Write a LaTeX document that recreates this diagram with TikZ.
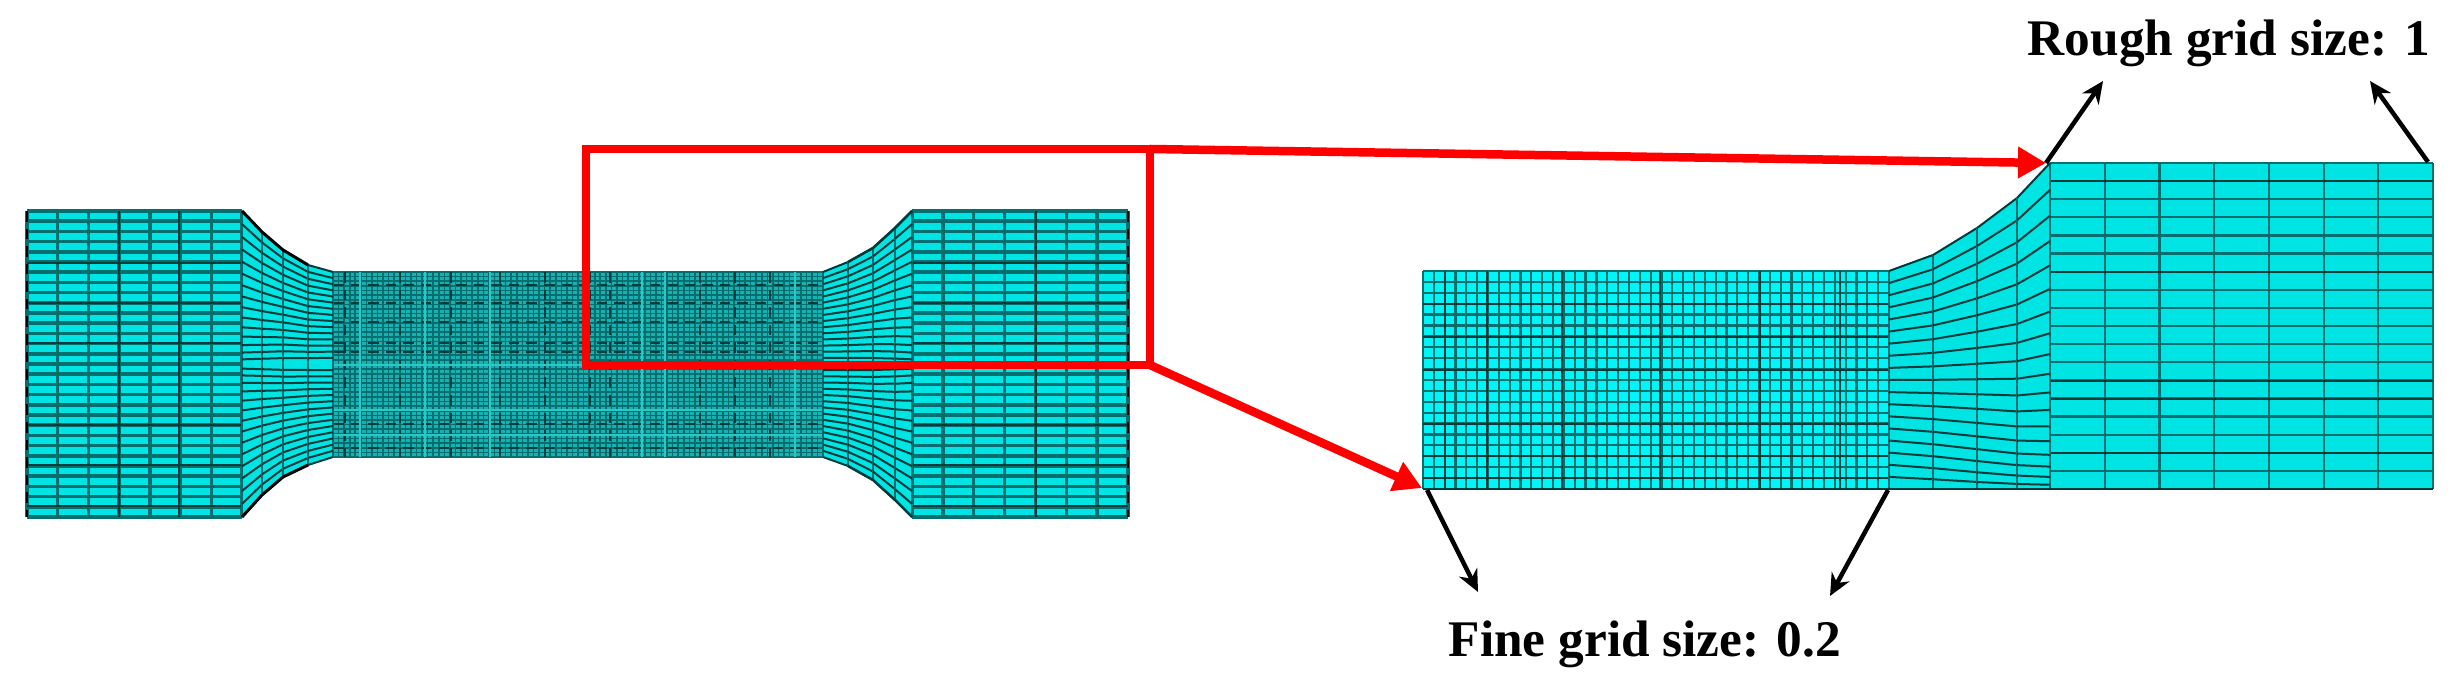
\documentclass[tikz,border=0pt]{standalone}
\usepackage{fontspec}
\setmainfont{Liberation Serif}
\usetikzlibrary{arrows.meta}
\definecolor{meshcyan}{HTML}{00E4E4}
\definecolor{meshbright}{HTML}{00F6F6}
\definecolor{meshneck}{HTML}{18B0B0}
\definecolor{meshpalecol}{HTML}{2CC8C8}
\definecolor{meshteal}{HTML}{056E6E}
\definecolor{meshdark}{HTML}{003C3C}
\tikzset{
    meshline/.style={meshteal,line width=0.2mm},
    meshbold/.style={meshdark,line width=0.25mm},
    meshedge/.style={black,line width=0.3mm},
    meshpale/.style={meshpalecol,line width=0.2mm},
    redline/.style={red,line width=0.85mm},
    redarrow/.style={redline,-{Triangle[length=2.8mm,width=3mm]}},
    blackarrow/.style={black,line width=0.45mm,-{Stealth[length=2.2mm,width=2mm]}},
    gridlabel/.style={font=\bfseries\fontsize{14.6}{16}\selectfont,inner sep=0pt,anchor=base west}
}
% x0, y0, x1, y1, columns, rows, fill colour
\newcommand{\meshgrid}[7]{
    \fill[#7] (#1,#2) rectangle (#3,#4);
    \foreach \i in {0,...,#5} \draw[meshline] ({#1+(#3-#1)/#5*\i},#2) -- ({#1+(#3-#1)/#5*\i},#4);
    \foreach \j in {0,...,#6} \draw[meshline] (#1,{#2+(#4-#2)/#6*\j}) -- (#3,{#2+(#4-#2)/#6*\j});
}
% list of xa/ya/pa/xb/yb/pb, base y, rows
\newcommand{\meshflare}[3]{
    \foreach \xa/\ya/\pa/\xb/\yb/\pb in {#1} {
        \fill[meshcyan] (\xa,#2) -- (\xa,\ya) -- (\xb,\yb) -- (\xb,#2) -- cycle;
        \draw[meshline] (\xa,#2) -- (\xa,\ya);
        \draw[meshline] (\xb,#2) -- (\xb,\yb);
        \foreach \j in {1,...,#3}
            \draw[meshdark,line width=0.2mm] (\xa,{#2+(\ya-#2)*pow(\j/#3,\pa)}) -- (\xb,{#2+(\yb-#2)*pow(\j/#3,\pb)});
    }
}
\begin{document}
\begin{tikzpicture}[x=0.01cm,y=-0.01cm]
    \useasboundingbox (0,0) rectangle (2455,698);
    % left specimen
    \begin{scope}[meshline/.append style={line width=0.35mm}]
        \meshgrid{27}{211}{242}{517}{7}{30}{meshcyan}
        \meshgrid{912}{211}{1128}{517}{7}{30}{meshcyan}
    \end{scope}
    \foreach \y in {263,303,343,425,465,506} \draw[meshbold] (27,\y) -- (242,\y) (912,\y) -- (1128,\y);
    \foreach \x in {119,179,1036} \draw[meshbold] (\x,211) -- (\x,517);
    \draw[meshedge,line width=0.2mm,densely dashed] (27,211) -- (27,517);
    \draw[meshedge,line width=0.2mm,densely dashed] (1128,211) -- (1128,517);
    \begin{scope}[meshline/.append style={line width=0.16mm}]
        \meshgrid{333}{272}{823}{457}{88}{40}{meshneck}
    \end{scope}
    \foreach \y in {285,303,322,343,352,410,424,448} \draw[meshbold,line width=0.15mm,densely dashed] (333,\y) -- (823,\y);
    \foreach \x in {345,400,451,500,545,590,610,700,735,770} \draw[meshbold,line width=0.15mm,densely dashed] (\x,272) -- (\x,457);
    \foreach \y in {365,410,435} \draw[meshpale] (333,\y) -- (823,\y);
    \foreach \x in {360,425,490,642,665,795} \draw[meshpale] (\x,272) -- (\x,457);
    \meshflare{242/211/1.3/262/232/1.2,262/232/1.2/283/250/1.1,283/250/1.1/308/265/1.05,308/265/1.05/333/272/1}{364}{15}
    \meshflare{242/517/1.3/262/495/1.2,262/495/1.2/283/477/1.1,283/477/1.1/308/465/1.05,308/465/1.05/333/457/1}{364}{15}
    \meshflare{823/272/1/848/262/1.05,848/262/1.05/873/248/1.1,873/248/1.1/895/228/1.2,895/228/1.2/912/211/1.3}{364}{15}
    \meshflare{823/457/1/848/466/1.05,848/466/1.05/873/480/1.1,873/480/1.1/895/500/1.2,895/500/1.2/912/517/1.3}{364}{15}
    \draw[meshedge] (242,211) -- (262,232) -- (283,250) -- (308,265);
    \draw[meshedge] (242,517) -- (262,495) -- (283,477) -- (308,465);
    \draw[meshbold] (848,262) -- (873,248) -- (895,228) -- (912,211);
    \draw[meshbold] (848,466) -- (873,480) -- (895,500) -- (912,517);
    % zoomed part
    \begin{scope}[meshline/.append style={line width=0.22mm}]
        \meshgrid{1423}{271}{1889}{489}{43}{20}{meshbright}
        \meshgrid{2050}{163}{2433}{489}{7}{18}{meshcyan}
    \end{scope}
    \foreach \y in {304,337,370,424,456,478} \draw[meshbold,line width=0.12mm] (1423,\y) -- (1889,\y);
    \foreach \x in {1445,1487,1562,1660,1760,1840} \draw[meshbold,line width=0.12mm] (\x,271) -- (\x,489);
    \foreach \y in {181,272,381,399,453} \draw[meshbold,line width=0.15mm] (2050,\y) -- (2433,\y);
    \meshflare{1889/271/1/1933/255/1.1,1933/255/1.1/1977/228/1.25,1977/228/1.25/2017/198/1.4,2017/198/1.4/2050/163/1.5}{489}{18}
    \draw[meshbold,line width=0.15mm] (1423,489) -- (2433,489);
    % red box and its arrows
    \coordinate (boxtl) at (586,149);
    \coordinate (boxtr) at (1150,149);
    \coordinate (boxbl) at (586,365);
    \coordinate (boxbr) at (1150,365);
    \coordinate (roughtop) at (2046,163);
    \coordinate (finetop) at (1422,488);
    \draw[redline] (boxtl) rectangle (boxbr);
    \draw[redarrow] (boxtr) -- (roughtop);
    \draw[redarrow] (boxbr) -- (finetop);
    % labels and black arrows
    \node[gridlabel] (rough) at (2027,56) {Rough grid size: 1};
    \node[gridlabel] (fine) at (1448,657) {Fine grid size: 0.2};
    \coordinate (roughend) at (2428,162);
    \coordinate (roughtipa) at (2103,81);
    \coordinate (roughtipb) at (2370,81);
    \coordinate (fineend) at (1888,490);
    \coordinate (finestart) at (1427,490);
    \coordinate (finetipa) at (1478,592);
    \coordinate (finetipb) at (1830,596);
    \draw[blackarrow] (roughtop) -- (roughtipa);
    \draw[blackarrow] (roughend) -- (roughtipb);
    \draw[blackarrow] (finestart) -- (finetipa);
    \draw[blackarrow] (fineend) -- (finetipb);
\end{tikzpicture}
\end{document}
